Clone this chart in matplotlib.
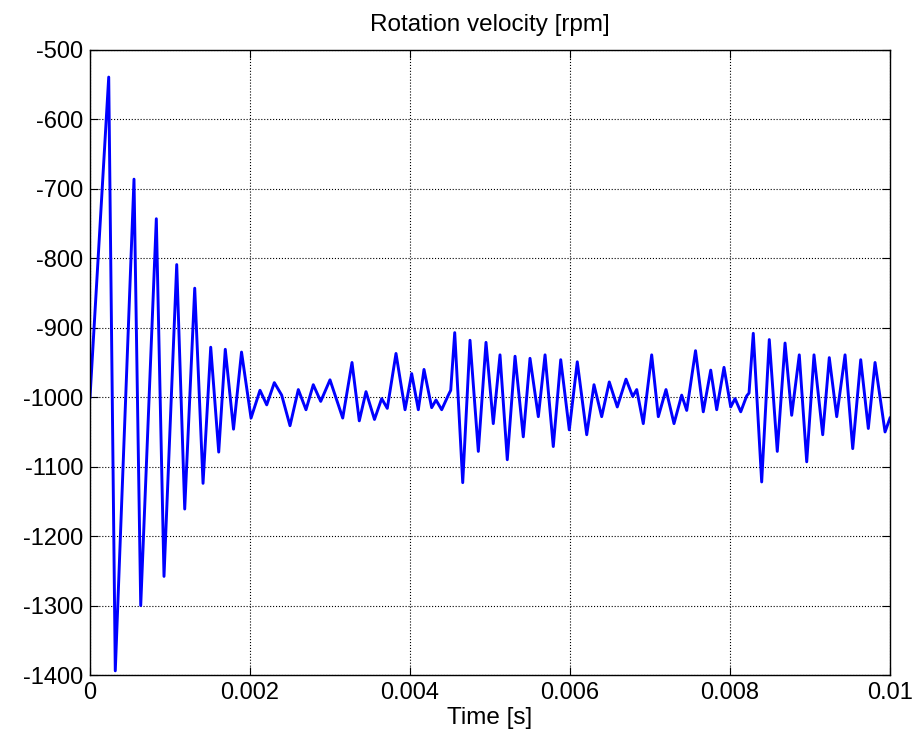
import matplotlib
matplotlib.use('Agg')
import matplotlib.pyplot as plt
import numpy as np

plt.rcParams['font.family'] = ['Liberation Sans', 'DejaVu Sans']
plt.rcParams['axes.unicode_minus'] = False

# time in ms (peaks / troughs)
t_ms = [0.000, 0.234, 0.316, 0.550, 0.634, 0.829, 0.925, 1.084, 1.184, 1.309,
        1.413, 1.509, 1.609, 1.691, 1.794, 1.894, 2.013, 2.125, 2.209, 2.304,
        2.396, 2.500, 2.604, 2.700, 2.791, 2.884, 3.000, 3.159, 3.275, 3.366,
        3.450, 3.556, 3.646, 3.716, 3.825, 3.938, 4.021, 4.104, 4.175, 4.271,
        4.325, 4.396, 4.479, 4.509, 4.559, 4.659, 4.750, 4.854, 4.950, 5.041,
        5.125, 5.216, 5.313, 5.416, 5.500, 5.604, 5.688, 5.791, 5.884, 5.991,
        6.091, 6.209, 6.300, 6.396, 6.491, 6.591, 6.700, 6.784, 6.834, 6.916,
        7.021, 7.104, 7.200, 7.300, 7.396, 7.459, 7.569, 7.666, 7.759, 7.834,
        7.925, 8.009, 8.063, 8.134, 8.209, 8.238, 8.291, 8.396, 8.491, 8.591,
        8.688, 8.771, 8.866, 8.959, 9.050, 9.159, 9.241, 9.334, 9.438, 9.534,
        9.634, 9.729, 9.813, 9.938, 10.000]
rpm = [-1000, -539, -1394, -686, -1300, -743, -1258, -809, -1161, -843,
       -1124, -928, -1079, -931, -1046, -935, -1030, -990, -1011, -979,
       -997, -1041, -989, -1018, -982, -1006, -975, -1030, -950, -1034,
       -992, -1032, -1002, -1016, -937, -1018, -966, -1018, -960, -1015,
       -1004, -1018, -997, -990, -907, -1123, -918, -1078, -921, -1038,
       -939, -1090, -941, -1057, -944, -1028, -939, -1071, -946, -1047,
       -949, -1054, -982, -1028, -978, -1014, -974, -999, -989, -1038,
       -939, -1028, -989, -1038, -997, -1019, -933, -1021, -961, -1018,
       -957, -1014, -1002, -1021, -998, -994, -908, -1122, -917, -1078,
       -922, -1026, -939, -1093, -939, -1054, -943, -1028, -939, -1074,
       -946, -1045, -950, -1050, -1030]

xticks = [0, 0.002, 0.004, 0.006, 0.008, 0.01]
xticklabels = ['0', '0.002', '0.004', '0.006', '0.008', '0.01']
yticks = list(range(-1400, -499, 100))

t = np.array(t_ms) * 1e-3

fig = plt.figure(figsize=(9.14, 7.38), dpi=100)
ax = fig.add_axes([90/914, 1-675/738, 800/914, 625/738])
ax.plot(t, rpm, color=(0, 0, 1), lw=2.1)

ax.set_xlim(0, 0.01)
ax.set_ylim(-1400, -500)
ax.set_xticks(xticks)
ax.set_xticklabels(xticklabels)
ax.set_yticks(yticks)
ax.tick_params(direction='in', top=True, right=True, labelsize=17, length=6, pad=5)
ax.grid(True, linestyle=':', color='k', lw=0.8)
for s in ax.spines.values():
    s.set_linewidth(1)

ax.set_title('Rotation velocity [rpm]', fontsize=17.5, pad=14)
ax.set_xlabel('Time [s]', fontsize=17.5, labelpad=2)

fig.savefig('out.png', dpi=100)
